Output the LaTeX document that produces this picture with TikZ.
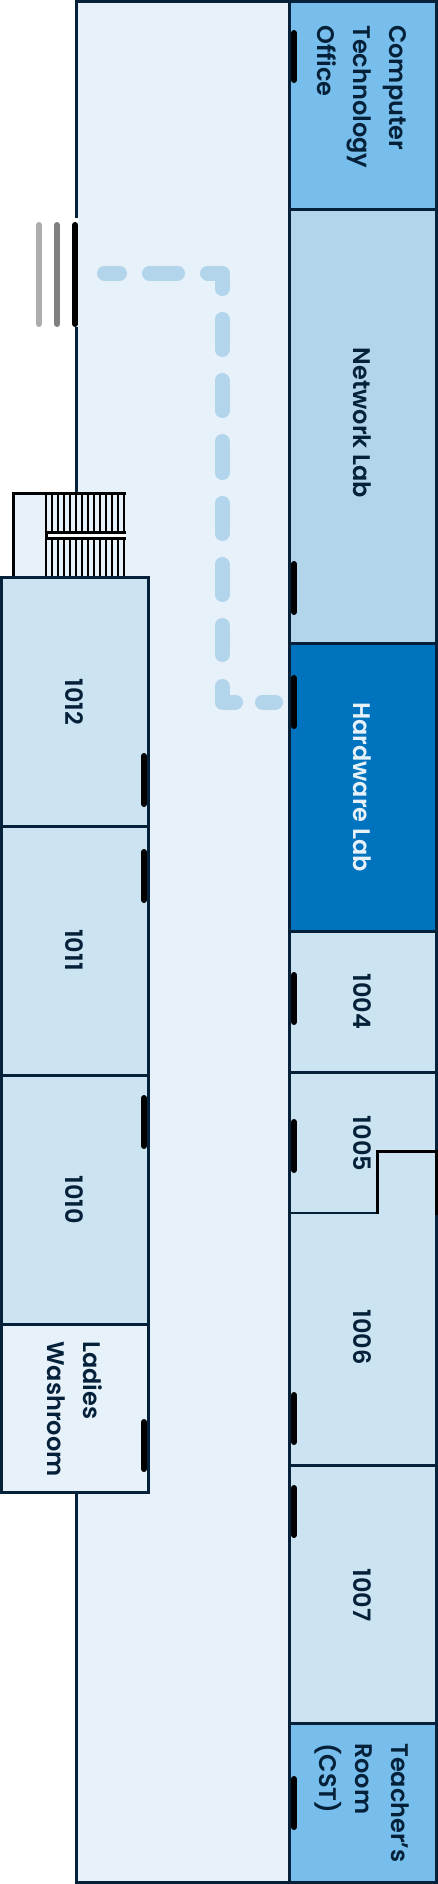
\documentclass[tikz,border=0pt]{standalone}
\usepackage{fontspec}
\setmainfont{Poppins}[UprightFont=* SemiBold]
\definecolor{navy}{HTML}{05213A}
\definecolor{corridorcol}{HTML}{E6F1F9}
\definecolor{roomcol}{HTML}{CCE3F1}
\definecolor{labcol}{HTML}{B3D5EC}
\definecolor{officecol}{HTML}{77BEEC}
\definecolor{hardwarecol}{HTML}{0073BE}
\definecolor{pathcol}{HTML}{B3D5EC}

\begin{document}
\begin{tikzpicture}[
    x=1pt, y=-1pt,
    wall/.style={draw=navy, line width=3pt},
    label/.style={rotate=-90, inner sep=0pt, text=navy, align=left,
                  font=\fontsize{24}{36}\selectfont},
    doorbar/.style={line width=6pt, line cap=round, black},
    routedash/.style={line width=15pt, line cap=round, line join=round, pathcol}
  ]
  \useasboundingbox (0,0) rectangle (438,1884);

  % Corridor
  \filldraw[wall, fill=corridorcol] (76.3,1.5) rectangle (289.5,1882.5);
  \fill[white] (70,218) rectangle (74.9,330);
  \fill[white] (74.9,218) rectangle (78,222);
  \fill[corridorcol] (74.9,222) rectangle (78,327);

  % Right rooms
  \filldraw[wall, fill=officecol] (289.5,1.5) rectangle (436.7,209);
  \filldraw[wall, fill=labcol] (289.5,209) rectangle (436.7,643);
  \filldraw[wall, fill=hardwarecol] (289.5,643) rectangle (436.7,931);
  \foreach \ya/\yb in {931/1072, 1072/1465, 1465/1723} {
    \filldraw[wall, fill=roomcol] (289.5,\ya) rectangle (436.7,\yb);
  }
  \filldraw[wall, fill=officecol] (289.5,1723) rectangle (436.7,1882.5);
  \draw[navy, line width=2.7pt] (289.5,1213) -- (377,1213);
  \draw[black, line width=3pt] (377,1214.4) -- (377,1151) -- (436.7,1151) -- (436.7,1215);

  % Stairs
  \fill[corridorcol] (13.3,493.3) rectangle (126,577);
  \foreach \i in {0,...,13} {
    \draw[black, line width=1.7pt] (46+\i*6,493.3) -- (46+\i*6,577);
  }
  \fill[white] (46,532) rectangle (126,538);
  \draw[black, line width=2.7pt] (126,532.3) -- (47,532.3) -- (47,538.3) -- (126,538.3);
  \draw[black, line width=3pt] (13.3,577) -- (13.3,493.3) -- (126,493.3);

  % Left rooms
  \foreach \ya/\yb in {577.5/826, 826/1075, 1075/1324} {
    \filldraw[wall, fill=roomcol] (1.5,\ya) rectangle (148.5,\yb);
  }
  \filldraw[wall, fill=corridorcol] (1.5,1324) rectangle (148.5,1492.5);

  % Route
  \draw[routedash] (104.5,273) -- (119.5,273);
  \draw[routedash] (149.5,273) -- (177.5,273);
  \draw[routedash] (207.5,273) -- (222,273) -- (222,288.5);
  \foreach \ya/\yb in {319.5/349.5, 380.5/410.5, 441.5/472.5, 503.5/533.5, 564.5/594.5, 625.5/654.5} {
    \draw[routedash] (222,\ya) -- (222,\yb);
  }
  \draw[routedash] (222,686.5) -- (222,702) -- (235.5,702);
  \draw[routedash] (262.5,702) -- (275.5,702);

  % Doors
  \foreach \ya/\yb in {33/80, 564/612, 678/726, 975/1022, 1122/1170, 1395/1442, 1488/1535, 1779/1827} {
    \draw[doorbar] (294,\ya) -- (294,\yb);
  }
  \foreach \ya/\yb in {756/804, 852/900, 1098/1146, 1422/1469} {
    \draw[doorbar] (144,\ya) -- (144,\yb);
  }

  % Entrance
  \draw[doorbar, black!32] (39,225) -- (39,324);
  \draw[doorbar, black!50] (57,225) -- (57,324);
  \draw[doorbar] (75,225) -- (75,324);

  % Labels
  \node[label, anchor=west] (cto) at (362,25) {Computer\\Technology\\Office};
  \node[label] (network) at (362,423) {Network Lab};
  \node[label, text=corridorcol] (hardware) at (362,787) {Hardware Lab};
  \node[label] (r1004) at (362,1001.5) {1004};
  \node[label] (r1005) at (362,1143.5) {1005};
  \node[label] (r1006) at (362,1337) {1006};
  \node[label] (r1007) at (362,1595) {1007};
  \node[label, anchor=west] (teachers) at (362,1743) {Teacher's\\Room\\(CST)};
  \node[label] (r1012) at (74.5,702) {1012};
  \node[label] (r1011) at (74.5,950) {1011};
  \node[label] (r1010) at (74.5,1199.5) {1010};
  \node[label, anchor=west] (washroom) at (74.5,1341) {Ladies\\Washroom};
\end{tikzpicture}
\end{document}
